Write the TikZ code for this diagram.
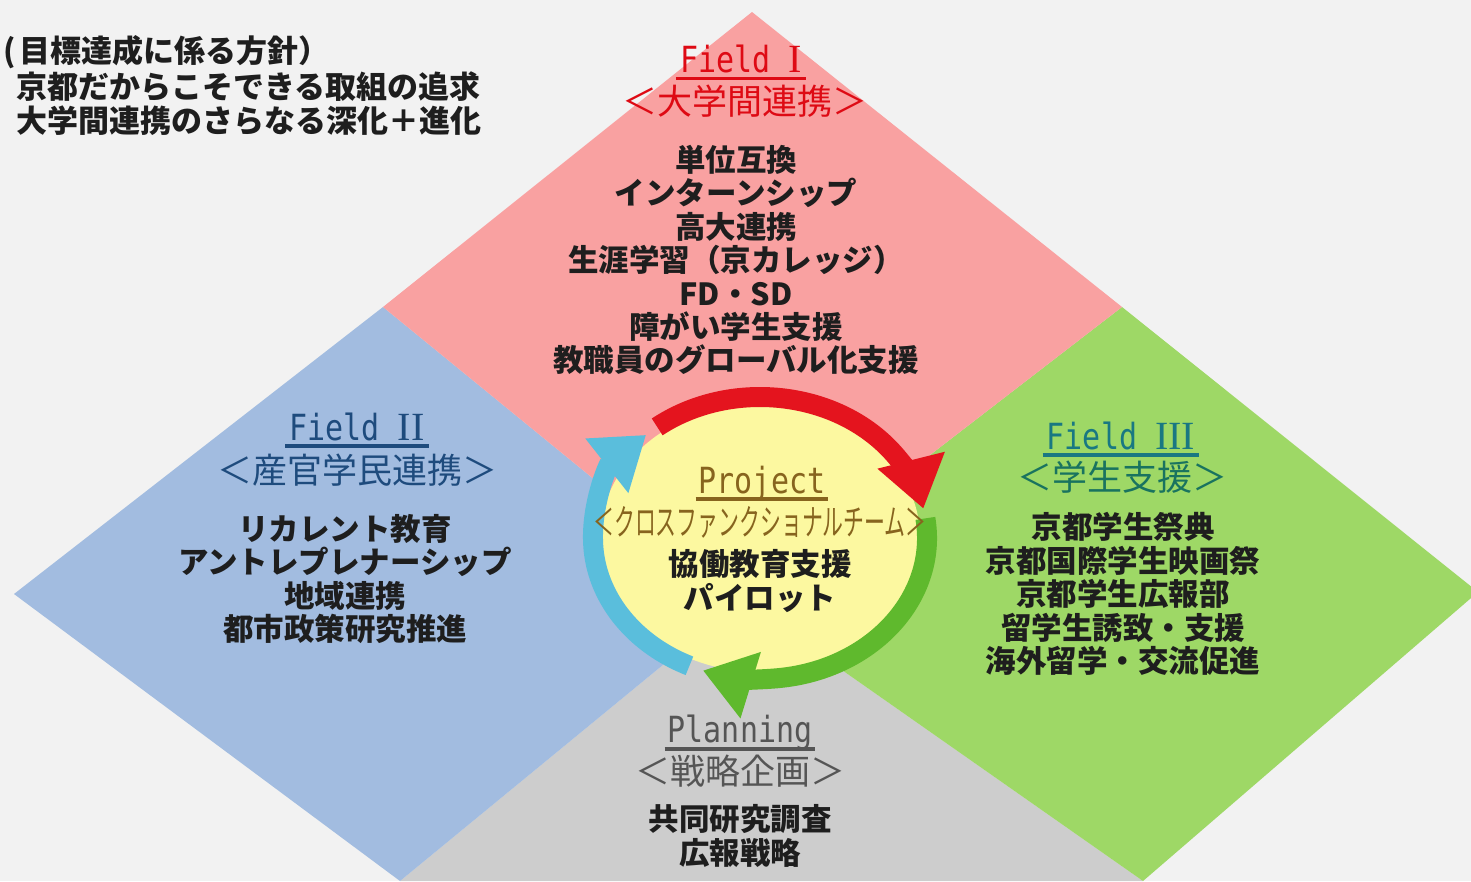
\documentclass[tikz,border=0pt]{standalone}
\usepackage{fontspec}
\usepackage{graphicx}
\newfontfamily\jp{Noto Sans CJK JP}
\newfontfamily\mono{DejaVu Sans Mono}
\newfontfamily\rmn{Liberation Serif}
\usetikzlibrary{arrows.meta,calc}
\definecolor{bgc}{RGB}{242,242,242}
\definecolor{pinkq}{RGB}{249,161,161}
\definecolor{blueq}{RGB}{162,188,224}
\definecolor{greenq}{RGB}{158,216,102}
\definecolor{grayq}{RGB}{205,205,205}
\definecolor{yel}{RGB}{252,248,160}
\definecolor{redt}{RGB}{222,10,20}
\definecolor{bluet}{RGB}{30,75,125}
\definecolor{tealt}{RGB}{25,120,130}
\definecolor{greent}{RGB}{25,115,95}
\definecolor{brownt}{RGB}{135,100,30}
\definecolor{grayt}{RGB}{85,85,85}
\definecolor{bodyc}{RGB}{30,30,30}
\definecolor{arrred}{RGB}{228,20,30}
\definecolor{arrgreen}{RGB}{95,185,45}
\definecolor{arrblue}{RGB}{90,190,220}
\newcommand{\ttlword}[1]{\scalebox{1}[1.2]{#1}}
\newcommand{\romn}[1]{{\rmn\fontsize{40}{40}\selectfont #1}}
\begin{document}
\begin{tikzpicture}[x=1pt,y=-1pt,
  ttl/.style={font=\mono\fontsize{30}{30}\selectfont, inner sep=0pt, anchor=base},
  sub/.style={font=\jp\fontsize{35}{35}\selectfont, inner sep=0pt},
  bodytxt/.style={font=\jp\bfseries\fontsize{30.5}{33.4}\selectfont, align=center, inner sep=0pt, text=bodyc},
  headtxt/.style={font=\jp\bfseries\fontsize{31}{34.5}\selectfont, anchor=west, inner sep=0pt, text=bodyc},
  ul/.style={line width=3.5pt},
  ring/.style={line width=20pt, -{Triangle[length=50pt,width=66pt]}}]
\clip (0,0) rectangle (1471,881);
\fill[bgc] (0,0) rectangle (1471,881);
% quadrants
\coordinate (T) at (752,12);
\coordinate (TL) at (383,307);
\coordinate (L) at (14,594);
\coordinate (TR) at (1122,307);
\coordinate (R) at (1478,592);
\coordinate (O) at (742,600);
\coordinate (LB) at (400,881);
\coordinate (RB) at (1143,881);
\fill[grayq] (O) -- (LB) -- (RB) -- cycle;
\fill[blueq] (TL) -- (L) -- (LB) -- (O) -- cycle;
\fill[greenq] (TR) -- (R) -- (RB) -- (O) -- cycle;
\fill[pinkq] (T) -- (TR) -- (O) -- (TL) -- cycle;
% heading top-left
\node[headtxt] (h1) at (3,52) {(\kern4pt 目標達成に係る方針）};
\node[headtxt] (h2) at (16,87) {京都だからこそできる取組の追求};
\node[headtxt] (h3) at (16,121) {大学間連携のさらなる深化＋進化};
% Field I
\node[ttl,text=redt] (f1) at (741,72) {\ttlword{Field} \romn{I}};
\draw[ul,redt] ($(f1.base west)+(-4,6.5)$) -- ($(f1.base east)+(4,6.5)$);
\node[sub,text=redt] (s1) at (745,101) {＜大学間連携＞};
\node[bodytxt] (b1) at (736,260) {単位互換\\インターンシップ\\高大連携\\生涯学習（京カレッジ）\\FD・SD\\障がい学生支援\\教職員のグローバル化支援};
% Field II
\node[ttl,text=bluet] (f2) at (357,440) {\ttlword{Field} \romn{II}};
\draw[ul,bluet] ($(f2.base west)+(-4,6)$) -- ($(f2.base east)+(4,6)$);
\node[sub,text=bluet] (s2) at (357,470) {＜産官学民連携＞};
\node[bodytxt] (b2) at (345,579) {リカレント教育\\アントレプレナーシップ\\地域連携\\都市政策研究推進};
% Field III
\node[ttl,text=tealt] (f3) at (1121,449) {\ttlword{Field} \romn{III}};
\draw[ul,tealt] ($(f3.base west)+(-4,6)$) -- ($(f3.base east)+(4,6)$);
\node[sub,text=greent] (s3) at (1122,477) {＜学生支援＞};
\node[bodytxt] (b3) at (1123,594) {京都学生祭典\\京都国際学生映画祭\\京都学生広報部\\留学生誘致・支援\\海外留学・交流促進};
% Planning
\node[ttl,text=grayt] (f5) at (740,742) {\ttlword{Planning}};
\draw[ul,grayt] ($(f5.base west)+(-3,7)$) -- ($(f5.base east)+(3,7)$);
\node[sub,text=grayt] (s5) at (740,771) {＜戦略企画＞};
\node[bodytxt] (b5) at (740,836) {共同研究調査\\広報戦略};
% Project circle
\coordinate (C) at (760,538);
\fill[yel] (C) ellipse[x radius=160, y radius=134];
\draw[ring,arrblue] ($(C)+(115:167 and 141)$) arc[start angle=115, end angle=227, x radius=167, y radius=141];
\draw[ring,arrgreen] ($(C)+(-8:167 and 141)$) arc[start angle=-8, end angle=110, x radius=167, y radius=141];
\draw[ring,arrred] ($(C)+(-128:167 and 141)$) arc[start angle=-128, end angle=-12, x radius=167, y radius=141];
\node[ttl,text=brownt] (f4) at (762,493) {\ttlword{Project}};
\draw[ul,brownt] ($(f4.base west)+(-3,6)$) -- ($(f4.base east)+(3,6)$);
\node[sub,text=brownt,font=\jp\fontsize{36}{36}\selectfont] (s4) at (760,522) {\scalebox{0.58}[1]{＜クロスファンクショナルチーム＞}};
\node[bodytxt] (b4) at (760,581) {協働教育支援\\パイロット};
\end{tikzpicture}
\end{document}
